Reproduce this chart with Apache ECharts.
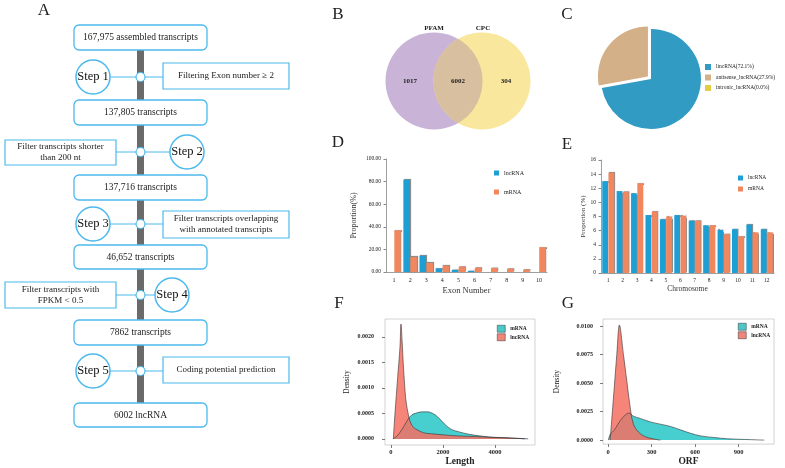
<!DOCTYPE html>
<html><head><meta charset="utf-8">
<script src="https://cdn.jsdelivr.net/npm/echarts@6/dist/echarts.min.js"></script>
<style>html,body{margin:0;padding:0;background:#fff}#c{width:785px;height:468px}</style>
</head><body><div id="c"></div>
<script>
const SERIF = '"Liberation Serif","DejaVu Serif",serif';

// ---- Panel A: pipeline text ----
const flowBoxes = ['167,975 assembled transcripts','137,805 transcripts','137,716 transcripts','46,652 transcripts','7862 transcripts','6002 lncRNA'];
const flowSteps = ['Step 1','Step 2','Step 3','Step 4','Step 5'];
const flowFilters = ['Filtering Exon number \u2265 2','Filter transcripts shorter\nthan 200 nt','Filter transcripts overlapping\nwith annotated transcripts','Filter transcripts with\nFPKM < 0.5','Coding potential prediction'];

// ---- Panel B: Venn ----
const vennSets = ['PFAM','CPC'];
const vennCounts = ['1017','6002','304'];

// ---- Panel C: pie ----
const pieNames = ['lincRNA(72.1%)','antisense_lncRNA(27.9%)','intronic_lncRNA(0.0%)'];
const pieValues = [72.1, 27.9, 0.0];

// ---- Panel D: exon number ----
const exonCats = ['1','2','3','4','5','6','7','8','9','10'];
const exonLnc = [0, 81.7, 14.4, 3.2, 1.8, 0.9, 0, 0, 0, 0];
const exonM   = [36.9, 13.3, 8.0, 5.6, 4.7, 3.8, 3.5, 2.9, 2.1, 22.0];
const exonTicks = [0, 100, 20];

// ---- Panel E: chromosome ----
const chromCats = ['1','2','3','4','5','6','7','8','9','10','11','12'];
const chromLnc = [13.0, 11.6, 11.3, 8.2, 7.6, 8.2, 7.4, 6.75, 6.1, 6.2, 6.85, 6.2];
const chromM   = [14.2, 11.5, 12.7, 8.7, 8.0, 8.1, 7.4, 6.75, 5.5, 5.2, 5.75, 5.75];
const chromTicks = [0, 16, 2];

// ---- Panel F: length density ----
const lenM = [[80,0],[200,0.00004],[350,0.00013],[500,0.00025],[650,0.00038],[800,0.00047],[1000,0.00051],[1200,0.00053],[1400,0.00053],[1600,0.00050],[1800,0.00043],[1950,0.00035],[2150,0.00025],[2350,0.00018],[2600,0.00014],[3000,0.00009],[3400,0.00006],[3900,0.00003],[4400,0.00002],[4900,0.00001],[5280,0]];
const lenL = [[90,0],[154,0.0005],[256,0.0012],[346,0.0018],[385,0.00225],[430,0.0019],[475,0.00145],[520,0.0011],[565,0.0008],[620,0.0006],[670,0.00047],[730,0.00035],[800,0.00027],[900,0.00021],[1000,0.00018],[1250,0.00012],[1550,0.0001],[2000,0.00008],[2500,0.00006],[3000,0.00005],[3500,0.00004],[4000,0.00003],[4500,0.00002],[5150,0]];
const lenTicksX = [0, 2000, 4000];
const lenTicksY = [0, 0.0005, 0.0010, 0.0015, 0.0020];

// ---- Panel G: ORF density ----
const orfM = [[2,0],[14,0.0005],[30,0.0007],[49,0.0010],[83,0.0017],[118,0.0022],[141,0.00237],[175,0.0021],[222,0.0019],[291,0.0016],[360,0.0014],[430,0.0012],[499,0.0009],[568,0.0006],[637,0.00037],[730,0.00023],[822,0.00012],[938,0.00006],[1076,0]];
const orfL = [[14,0],[37,0.0037],[60,0.0075],[78,0.0101],[106,0.0075],[129,0.0052],[152,0.0029],[175,0.0014],[210,0.0007],[256,0.0003],[314,0.0001],[360,0]];
const orfTicksX = [0, 300, 600, 900];
const orfTicksY = [0, 0.0025, 0.0050, 0.0075, 0.0100];

// ---- colours / layout ----
const BLUE_BAR = '#1e9fd3', ORANGE_BAR = '#f0875f';
const TEAL = 'rgba(0,188,190,0.72)', RED = 'rgba(246,110,98,0.85)';
const FLOW = '#4cb9ec';
const PIE_COLORS = ['#319bc4','#d4b088','#e3cc48'];

const layA = {
  barX: 137, barW: 7, barTop: 50, barBot: 403,
  boxX: 74, boxW: 133, boxY: [25,100,175,245,320,403], boxH: [25,25,25,24,25,24],
  nodeY: [77,152,224,295,371],
  side: ['L','R','L','R','L'],
  circX: [93,187,93,172,93],
  fBox: [[163,63,126,26],[5,140,111,25],[163,211,126,27],[5,282,111,26],[163,357,126,26]]
};

const els = [];
// Panel letters
[['A',44,11],['B',338,15],['C',567,15],['D',338,143],['E',567,145],['F',339,304],['G',568,304]].forEach(p=>{
  els.push({type:'text', x:p[1], y:p[2], style:{text:p[0], font:'17px '+SERIF, fill:'#222', align:'center', verticalAlign:'middle'}});
});
// Flowchart
els.push({type:'rect', shape:{x:layA.barX, y:layA.barTop, width:layA.barW, height:layA.barBot-layA.barTop}, style:{fill:'#6a6a6a'}, z:1});
flowBoxes.forEach((t,i)=>{
  els.push({type:'rect', shape:{x:layA.boxX, y:layA.boxY[i], width:layA.boxW, height:layA.boxH[i], r:5}, style:{fill:'#fff', stroke:FLOW, lineWidth:1.3}, z:3});
  els.push({type:'text', x:layA.boxX+layA.boxW/2, y:layA.boxY[i]+layA.boxH[i]/2, style:{text:t, font:'9.5px '+SERIF, fill:'#222', align:'center', verticalAlign:'middle'}, z:4});
});
flowSteps.forEach((s,i)=>{
  const y = layA.nodeY[i], cx = layA.circX[i], fb = layA.fBox[i];
  const lx1 = layA.side[i]==='L' ? cx+17 : fb[0]+fb[2];
  const lx2 = layA.side[i]==='L' ? fb[0] : cx-17;
  els.push({type:'line', shape:{x1:lx1, y1:y, x2:lx2, y2:y}, style:{stroke:FLOW, lineWidth:1}, z:2});
  els.push({type:'circle', shape:{cx:layA.barX+layA.barW/2, cy:y, r:4.5}, style:{fill:'#fff', stroke:FLOW, lineWidth:1.2}, z:3});
  els.push({type:'circle', shape:{cx:cx, cy:y, r:17}, style:{fill:'#fff', stroke:FLOW, lineWidth:1.5}, z:3});
  els.push({type:'text', x:cx, y:y, style:{text:s, font:'12.5px '+SERIF, fill:'#111', align:'center', verticalAlign:'middle'}, z:4});
  els.push({type:'rect', shape:{x:fb[0], y:fb[1], width:fb[2], height:fb[3]}, style:{fill:'#fff', stroke:FLOW, lineWidth:1.2}, z:3});
  els.push({type:'text', x:fb[0]+fb[2]/2, y:fb[1]+fb[3]/2, style:{text:flowFilters[i], font:'9px '+SERIF, fill:'#222', align:'center', verticalAlign:'middle', lineHeight:11}, z:4});
});
// Venn
const vL = [434,81], vR = [482,81], vr = 48.5;
els.push({type:'circle', shape:{cx:vL[0], cy:vL[1], r:vr}, style:{fill:'#c9b3d6'}, z:1});
els.push({type:'circle', shape:{cx:vR[0], cy:vR[1], r:vr}, style:{fill:'#f9e79e'}, z:1});
(function(){
  const d = vR[0]-vL[0];
  const a = Math.acos((d/2)/vr);
  const pts = [];
  const N = 40;
  for (let k=0;k<=N;k++){ const t=-a+2*a*k/N; pts.push([vL[0]+vr*Math.cos(t), vL[1]+vr*Math.sin(t)]); }
  for (let k=0;k<=N;k++){ const t=Math.PI-a+2*a*k/N; pts.push([vR[0]+vr*Math.cos(t), vR[1]+vr*Math.sin(t)]); }
  els.push({type:'polygon', shape:{points:pts}, style:{fill:'#d8bf9f'}, z:2});
})();
els.push({type:'text', x:434, y:28, style:{text:vennSets[0], font:'bold 7px '+SERIF, fill:'#222', align:'center', verticalAlign:'middle'}, z:3});
els.push({type:'text', x:483, y:28, style:{text:vennSets[1], font:'bold 7px '+SERIF, fill:'#222', align:'center', verticalAlign:'middle'}, z:3});
[[410,81],[458,81],[506,81]].forEach((p,i)=>{
  els.push({type:'text', x:p[0], y:p[1], style:{text:vennCounts[i], font:'bold 7px '+SERIF, fill:'#222', align:'center', verticalAlign:'middle'}, z:3});
});

const small = (s, extra)=>Object.assign({fontFamily:SERIF, fontSize:s, color:'#222'}, extra||{});
const barShadow = {shadowColor:'rgba(0,0,0,0.45)', shadowOffsetX:0.8, shadowOffsetY:-0.5, shadowBlur:0.8};

const densX = (gi, mn, mx, ticks, name, gap, lm) => ({
  gridIndex:gi, type:'value', min:mn, max:mx, position:'bottom',
  axisLine:{show:false, onZero:false}, splitLine:{show:false},
  axisTick:{show:true, inside:false, length:3, customValues:ticks, lineStyle:{color:'#444', width:0.7}},
  axisLabel:{customValues:ticks, margin:lm, formatter:v=>String(v), ...small(6.5, {fontWeight:'bold', color:'#222'})},
  name:name, nameLocation:'middle', nameGap:gap, nameTextStyle:small(9.5, {fontWeight:'bold'})
});
const densY = (gi, mn, mx, ticks, gap, lm) => ({
  gridIndex:gi, type:'value', min:mn, max:mx, position:'left',
  axisLine:{show:false, onZero:false}, splitLine:{show:false},
  axisTick:{show:true, inside:false, length:3, customValues:ticks, lineStyle:{color:'#444', width:0.7}},
  axisLabel:{customValues:ticks, margin:lm, formatter:v=>v.toFixed(4), ...small(6, {fontWeight:'bold', color:'#222'})},
  name:'Density', nameLocation:'middle', nameGap:gap, nameTextStyle:small(7.5)
});
const densLine = (name, data, fill, xi) => ({
  type:'line', name:name, xAxisIndex:xi, yAxisIndex:xi, data:data, smooth:0.35, showSymbol:false, symbol:'none',
  lineStyle:{color:'#333', width:0.6}, itemStyle:{color:fill}, areaStyle:{color:fill, opacity:1}, silent:true
});

const option = {
  animation:false,
  textStyle:{fontFamily:SERIF},
  graphic:{elements:els},
  grid:[
    {left:386, top:159, width:161, height:113},
    {left:601, top:160, width:173, height:113},
    {left:385, top:319, width:150, height:126, show:true, borderColor:'#c8c8c8', borderWidth:0.8, backgroundColor:'#fff'},
    {left:603, top:319, width:171, height:126, show:true, borderColor:'#c8c8c8', borderWidth:0.8, backgroundColor:'#fff'}
  ],
  xAxis:[
    {gridIndex:0, type:'category', data:exonCats,
     axisLine:{lineStyle:{color:'#888', width:0.8}}, axisTick:{length:2.5, lineStyle:{color:'#888'}},
     axisLabel:{interval:0, margin:5, ...small(6)},
     name:'Exon Number', nameLocation:'middle', nameGap:14, nameTextStyle:small(8.5, {color:'#333'})},
    {gridIndex:1, type:'category', data:chromCats,
     axisLine:{lineStyle:{color:'#888', width:0.8}}, axisTick:{length:2.5, lineStyle:{color:'#888'}},
     axisLabel:{interval:0, margin:5, ...small(5.5)},
     name:'Chromosome', nameLocation:'middle', nameGap:12, nameTextStyle:small(7.5, {color:'#333'})},
    densX(2, -230, 5540, lenTicksX, 'Length', 10, 4),
    densX(3, -35, 1143, orfTicksX, 'ORF', 12, 5)
  ],
  yAxis:[
    {gridIndex:0, type:'value', min:exonTicks[0], max:exonTicks[1], interval:exonTicks[2],
     axisLine:{show:true, lineStyle:{color:'#888', width:0.8}}, axisTick:{show:true, length:2.5, lineStyle:{color:'#888'}},
     splitLine:{show:false}, axisLabel:{formatter:v=>v.toFixed(2), margin:5, ...small(5.5)},
     name:'Proportion(%)', nameLocation:'middle', nameGap:28, nameTextStyle:small(8, {color:'#333'})},
    {gridIndex:1, type:'value', min:chromTicks[0], max:chromTicks[1], interval:chromTicks[2],
     axisLine:{show:true, lineStyle:{color:'#888', width:0.8}}, axisTick:{show:true, length:2.5, lineStyle:{color:'#888'}},
     splitLine:{show:false}, axisLabel:{margin:5, ...small(5.5)},
     name:'Proportion (%)', nameLocation:'middle', nameGap:14, nameTextStyle:small(7, {color:'#333'})},
    densY(2, -0.00012, 0.00235, lenTicksY, 34, 11),
    densY(3, -0.00035, 0.01063, orfTicksY, 42, 10)
  ],
  legend:[
    {left:494, top:170, orient:'vertical', itemWidth:5, itemHeight:5, itemGap:13, icon:'rect', selectedMode:false,
     data:[{name:'lncRNA', itemStyle:{color:BLUE_BAR}}, {name:'mRNA', itemStyle:{color:ORANGE_BAR}}],
     textStyle:small(6), padding:0},
    {left:738, top:175, orient:'vertical', itemWidth:5, itemHeight:5, itemGap:5, icon:'rect', selectedMode:false,
     data:[{name:'lncRNA', itemStyle:{color:BLUE_BAR}}, {name:'mRNA', itemStyle:{color:ORANGE_BAR}}],
     textStyle:small(5.5), padding:0},
    {left:705, top:64, orient:'vertical', itemWidth:6, itemHeight:6, itemGap:4.5, icon:'rect', selectedMode:false,
     data:pieNames, textStyle:small(5.5), padding:0},
    {left:497, top:325, orient:'vertical', itemWidth:8, itemHeight:7, itemGap:1, icon:'rect', selectedMode:false,
     data:[{name:'mRNA', itemStyle:{color:'#4cc8c6', borderColor:'#333', borderWidth:0.5}}, {name:'lncRNA', itemStyle:{color:'#f0867a', borderColor:'#333', borderWidth:0.5}}],
     textStyle:small(5.5, {fontWeight:'bold'}), padding:0},
    {left:738, top:323, orient:'vertical', itemWidth:8, itemHeight:7, itemGap:1, icon:'rect', selectedMode:false,
     data:[{name:'mRNA', itemStyle:{color:'#4cc8c6', borderColor:'#333', borderWidth:0.5}}, {name:'lncRNA', itemStyle:{color:'#f0867a', borderColor:'#333', borderWidth:0.5}}],
     textStyle:small(5.5, {fontWeight:'bold'}), padding:0}
  ],
  series:[
    {type:'pie', center:[651,79], radius:50, startAngle:90, clockwise:true, selectedMode:'single', selectedOffset:4,
     label:{show:false}, labelLine:{show:false}, silent:true,
     data:pieNames.map((n,i)=>({name:n, value:pieValues[i], selected:i===1, itemStyle:{color:PIE_COLORS[i]}}))},
    {type:'bar', name:'lncRNA', xAxisIndex:0, yAxisIndex:0, data:exonLnc, barWidth:6.5, barGap:'8%', itemStyle:{color:BLUE_BAR, ...barShadow}},
    {type:'bar', name:'mRNA', xAxisIndex:0, yAxisIndex:0, data:exonM, barWidth:6.5, itemStyle:{color:ORANGE_BAR, ...barShadow}},
    {type:'bar', name:'lncRNA', xAxisIndex:1, yAxisIndex:1, data:chromLnc, barWidth:5.7, barGap:'10%', itemStyle:{color:BLUE_BAR, ...barShadow}},
    {type:'bar', name:'mRNA', xAxisIndex:1, yAxisIndex:1, data:chromM, barWidth:5.7, itemStyle:{color:ORANGE_BAR, ...barShadow}},
    densLine('mRNA', lenM, TEAL, 2),
    densLine('lncRNA', lenL, RED, 2),
    densLine('mRNA', orfM, TEAL, 3),
    densLine('lncRNA', orfL, RED, 3)
  ]
};
const chart = echarts.init(document.getElementById('c'), null, {renderer:'canvas'});
chart.setOption(option);
</script>
</body></html>
